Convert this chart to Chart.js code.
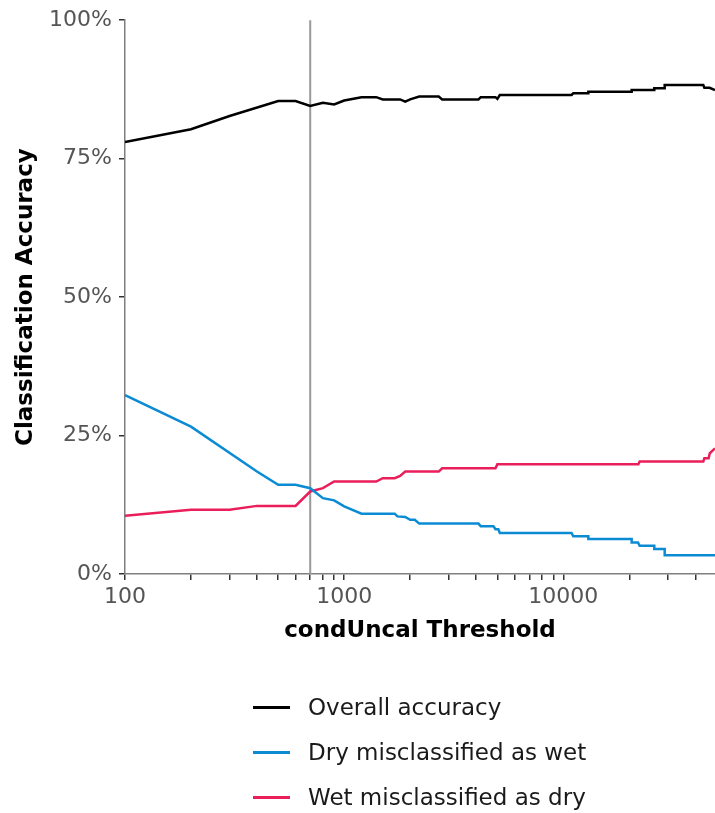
<!DOCTYPE html>
<html>
<head>
<meta charset="utf-8">
<script src="https://cdn.jsdelivr.net/npm/chart.js@4.4.0/dist/chart.umd.min.js"></script>
<style>
  html, body { margin: 0; padding: 0; background: #fff; }
  #wrap { position: relative; width: 715px; height: 813px; }
  #legend { position: absolute; left: 0; top: 0; width: 715px; height: 813px; pointer-events: none;
            font-family: 'DejaVu Sans', sans-serif; font-size: 23px; color: #1a1a1a; }
  .item { position: absolute; left: 253px; height: 30px; display: flex; align-items: center; }
  .swatch { width: 37px; height: 3px; margin-right: 18px; }
</style>
</head>
<body>
<div id="wrap">
  <canvas id="accuracyChart" width="715" height="813"></canvas>
  <div id="legend"></div>
</div>
<script>
// Eşik değerleri ve oranlar
const overallX = [100, 200, 300, 500, 600, 700, 800, 900, 1000, 1200, 1400, 1500, 1800, 1900, 2000, 2200, 2700, 2800, 4100, 4200, 4900, 5000, 5130, 10900, 11100, 13000, 13000, 20500, 20500, 26000, 26000, 29000, 29000, 43500, 44000, 46500, 49200];
const overallY = [0.780, 0.803, 0.827, 0.854, 0.854, 0.845, 0.851, 0.848, 0.855, 0.861, 0.861, 0.857, 0.857, 0.853, 0.857, 0.862, 0.862, 0.857, 0.857, 0.861, 0.861, 0.858, 0.865, 0.865, 0.868, 0.868, 0.871, 0.871, 0.874, 0.874, 0.877, 0.877, 0.883, 0.883, 0.878, 0.878, 0.874];

const dryX = [100, 200, 400, 500, 600, 700, 800, 900, 1000, 1200, 1700, 1750, 1900, 2000, 2100, 2200, 4100, 4200, 4800, 4900, 5050, 5130, 10900, 11100, 13000, 13000, 20500, 20500, 21900, 22300, 26000, 26000, 29000, 29000, 49200];
const dryY = [0.323, 0.266, 0.185, 0.161, 0.161, 0.155, 0.137, 0.133, 0.122, 0.109, 0.109, 0.104, 0.103, 0.098, 0.098, 0.091, 0.091, 0.086, 0.086, 0.081, 0.081, 0.074, 0.074, 0.068, 0.068, 0.063, 0.063, 0.057, 0.057, 0.051, 0.051, 0.045, 0.045, 0.034, 0.034];

const wetX = [100, 200, 300, 400, 600, 700, 800, 900, 1400, 1500, 1700, 1800, 1900, 2700, 2800, 4900, 5000, 22000, 22300, 43500, 44000, 46000, 46600, 49200];
const wetY = [0.105, 0.116, 0.116, 0.123, 0.123, 0.149, 0.155, 0.167, 0.167, 0.173, 0.173, 0.177, 0.185, 0.185, 0.191, 0.191, 0.198, 0.198, 0.203, 0.203, 0.209, 0.209, 0.218, 0.227];

const thresholdLine = 700;

// Eksen etiketleri
const xTicks = [100, 200, 300, 400, 500, 600, 700, 800, 900, 1000, 2000, 3000, 4000, 5000, 6000, 7000, 8000, 9000, 10000, 20000, 30000, 40000];
const xLabels = [100, 1000, 10000];
const yTicks = [0, 0.25, 0.5, 0.75, 1];

const seriesNames = ['Overall accuracy', 'Dry misclassified as wet', 'Wet misclassified as dry'];
const seriesColors = ['#000000', '#0b8bd3', '#e91e5b'];

function toPoints(xs, ys) {
    return xs.map((x, i) => ({ x: x, y: ys[i] }));
}

// Dikey eşik çizgisi
const thresholdPlugin = {
    id: 'thresholdLine',
    beforeDatasetsDraw(chart) {
        const { ctx, chartArea, scales } = chart;
        const px = scales.x.getPixelForValue(thresholdLine);
        ctx.save();
        ctx.strokeStyle = '#999999';
        ctx.lineWidth = 2;
        ctx.beginPath();
        ctx.moveTo(px, chartArea.top);
        ctx.lineTo(px, chartArea.bottom);
        ctx.stroke();
        ctx.restore();
    }
};

Chart.defaults.font.family = "'DejaVu Sans', sans-serif";

const ctx = document.getElementById('accuracyChart');
new Chart(ctx, {
    type: 'line',
    data: {
        datasets: [
            { label: seriesNames[0], data: toPoints(overallX, overallY), borderColor: seriesColors[0] },
            { label: seriesNames[1], data: toPoints(dryX, dryY), borderColor: seriesColors[1] },
            { label: seriesNames[2], data: toPoints(wetX, wetY), borderColor: seriesColors[2] }
        ]
    },
    options: {
        responsive: false,
        animation: false,
        events: [],
        elements: {
            point: { radius: 0 },
            line: { borderWidth: 2.5, tension: 0, fill: false }
        },
        layout: { padding: { top: 19, right: 0, bottom: 168, left: 0 } },
        plugins: {
            legend: { display: false },
            tooltip: { enabled: false }
        },
        scales: {
            x: {
                type: 'logarithmic',
                min: 100,
                max: 49200,
                afterBuildTicks: (scale) => { scale.ticks = xTicks.map(v => ({ value: v })); },
                afterFit: (scale) => { scale.height = 71; },
                border: { display: true, color: '#7f7f7f', width: 1.5 },
                grid: { drawOnChartArea: false, drawTicks: true, tickLength: 6, color: '#333333', lineWidth: 1.5 },
                ticks: {
                    autoSkip: false,
                    maxRotation: 0,
                    padding: 4,
                    color: '#555555',
                    font: { size: 22 },
                    callback: (value) => xLabels.includes(value) ? String(value) : ''
                },
                title: {
                    display: true,
                    text: 'condUncal Threshold',
                    color: '#000000',
                    font: { size: 23, weight: 'bold' },
                    padding: { top: 0, bottom: 0 }
                }
            },
            y: {
                type: 'linear',
                min: 0,
                max: 1,
                afterBuildTicks: (scale) => { scale.ticks = yTicks.map(v => ({ value: v })); },
                afterFit: (scale) => { scale.width = 125; },
                border: { display: true, color: '#7f7f7f', width: 1.5 },
                grid: { drawOnChartArea: false, drawTicks: true, tickLength: 6, color: '#333333', lineWidth: 1.5 },
                ticks: {
                    padding: 7,
                    color: '#555555',
                    font: { size: 22 },
                    callback: (value) => Math.round(value * 100) + '%'
                },
                title: {
                    display: true,
                    text: 'Classification Accuracy',
                    color: '#000000',
                    font: { size: 23, weight: 'bold' },
                    padding: { top: 12, bottom: 0 }
                }
            }
        }
    },
    plugins: [thresholdPlugin]
});

// Lejantı oluştur
const legendEl = document.getElementById('legend');
const legendTops = [692, 737, 782];
seriesNames.forEach((name, i) => {
    const item = document.createElement('div');
    item.className = 'item';
    item.style.top = legendTops[i] + 'px';
    const sw = document.createElement('span');
    sw.className = 'swatch';
    sw.style.background = seriesColors[i];
    const label = document.createElement('span');
    label.textContent = name;
    item.appendChild(sw);
    item.appendChild(label);
    legendEl.appendChild(item);
});
</script>
</body>
</html>
